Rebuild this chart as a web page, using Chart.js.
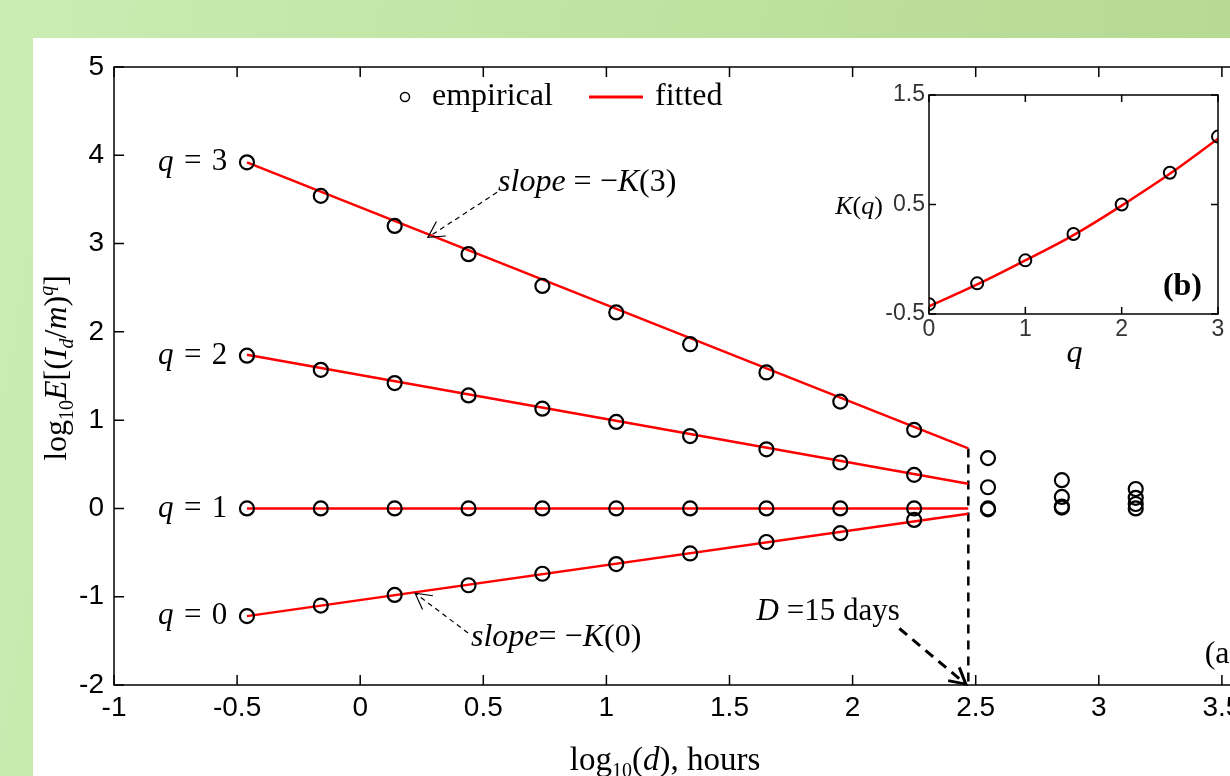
<!DOCTYPE html>
<html>
<head>
<meta charset="utf-8">
<script src="https://cdn.jsdelivr.net/npm/chart.js@4.4.1/dist/chart.umd.min.js"></script>
<style>
html, body { margin: 0; padding: 0; width: 1230px; height: 776px; overflow: hidden; }
body { position: relative; background: linear-gradient(100deg, #c9edb3 0%, #bfe3a2 45%, #b4d88e 100%); }
#panel { position: absolute; left: 33px; top: 38px; width: 1197px; height: 738px; background: #fff; }
#main { position: absolute; left: 0; top: 0; }
#inset { position: absolute; left: 820px; top: 75px; }
</style>
</head>
<body>
<div id="panel"></div>
<canvas id="main" width="1360" height="776"></canvas>
<canvas id="inset" width="410" height="310"></canvas>
<script>
// log10(d) of the aggregation scales, hours
const logD = [-0.46, -0.16, 0.14, 0.44, 0.74, 1.04, 1.34, 1.65, 1.95, 2.25, 2.55, 2.85, 3.15];

// empirical log10 E[(Id/m)^q]
const momQ3 = [3.92, 3.54, 3.20, 2.88, 2.52, 2.22, 1.86, 1.54, 1.21, 0.89, 0.57, 0.32, 0.22];
const momQ2 = [1.73, 1.57, 1.42, 1.28, 1.13, 0.98, 0.82, 0.67, 0.52, 0.38, 0.24, 0.13, 0.12];
const momQ1 = [0, 0, 0, 0, 0, 0, 0, 0, 0, 0, 0, 0.01, 0];
const momQ0 = [-1.22, -1.10, -0.98, -0.87, -0.74, -0.63, -0.51, -0.38, -0.28, -0.13, -0.01, 0.02, 0.05];

// fitted lines, from first scale to the cutoff D = 15 days
const fitX = [-0.46, 2.47];
const fitQ3 = [3.92, 0.68];
const fitQ2 = [1.74, 0.28];
const fitQ1 = [0, 0];
const fitQ0 = [-1.22, -0.06];
const cutoff = 2.47;

const qNames = ['3', '2', '1', '0'];

// inset (b): K(q)
const qValues = [0, 0.5, 1, 1.5, 2, 2.5, 3];
const kEmp = [-0.41, -0.22, -0.01, 0.23, 0.50, 0.79, 1.12];
const kFit = [-0.43, -0.23, -0.01, 0.22, 0.49, 0.78, 1.10];

const SERIF = '"Liberation Serif", "Times New Roman", serif';
const SANS = '"Liberation Sans", Arial, sans-serif';
function fnt(px, st) { return (st ? st + ' ' : '') + px + 'px ' + SERIF; }
const plain = v => String(Math.round(v * 10) / 10);

Chart.defaults.color = '#000';

// draws a run of text pieces [text, font, dy]
function rich(ctx, segs, x, y, align) {
    let w = 0;
    segs.forEach(s => { ctx.font = s[1]; w += ctx.measureText(s[0]).width; });
    let cx = align === 'right' ? x - w : (align === 'center' ? x - w / 2 : x);
    ctx.textAlign = 'left';
    segs.forEach(s => {
        ctx.font = s[1];
        ctx.fillText(s[0], cx, y + (s[2] || 0));
        cx += ctx.measureText(s[0]).width;
    });
}

function arrow(ctx, x1, y1, x2, y2, width, dash, head) {
    ctx.save();
    ctx.strokeStyle = '#000';
    ctx.lineWidth = width;
    ctx.setLineDash(dash);
    ctx.beginPath();
    ctx.moveTo(x1, y1);
    ctx.lineTo(x2, y2);
    ctx.stroke();
    ctx.setLineDash([]);
    const a = Math.atan2(y1 - y2, x1 - x2);
    ctx.beginPath();
    ctx.moveTo(x2 + head * Math.cos(a + 0.5), y2 + head * Math.sin(a + 0.5));
    ctx.lineTo(x2, y2);
    ctx.lineTo(x2 + head * Math.cos(a - 0.5), y2 + head * Math.sin(a - 0.5));
    ctx.stroke();
    ctx.restore();
}

function frameAndTicks(chart, len) {
    const ctx = chart.ctx;
    const a = chart.chartArea;
    ctx.save();
    ctx.strokeStyle = '#000';
    ctx.lineWidth = 1.5;
    ctx.strokeRect(a.left, a.top, a.right - a.left, a.bottom - a.top);
    ctx.beginPath();
    chart.scales.x.ticks.forEach(t => {
        const px = chart.scales.x.getPixelForValue(t.value);
        ctx.moveTo(px, a.bottom); ctx.lineTo(px, a.bottom - len);
        ctx.moveTo(px, a.top); ctx.lineTo(px, a.top + len);
    });
    chart.scales.y.ticks.forEach(t => {
        const py = chart.scales.y.getPixelForValue(t.value);
        ctx.moveTo(a.left, py); ctx.lineTo(a.left + len, py);
        ctx.moveTo(a.right, py); ctx.lineTo(a.right - len, py);
    });
    ctx.stroke();
    ctx.restore();
}

const mainDecor = {
    id: 'mainDecor',
    afterDatasetsDraw(chart) {
        const ctx = chart.ctx;
        const xs = chart.scales.x, ys = chart.scales.y;
        const a = chart.chartArea;
        const X = v => xs.getPixelForValue(v), Y = v => ys.getPixelForValue(v);
        frameAndTicks(chart, 10);

        ctx.save();
        ctx.fillStyle = '#000';
        ctx.textBaseline = 'middle';

        // q labels
        [momQ3, momQ2, momQ1, momQ0].forEach((s, i) => {
            rich(ctx, [['q', fnt(31, 'italic')], ['\u2004=\u2004' + qNames[i], fnt(31)]], X(-0.54), Y(s[0]), 'right');
        });

        // slope annotations
        rich(ctx, [['slope', fnt(32, 'italic')], [' = \u2212', fnt(32)], ['K', fnt(32, 'italic')], ['(3)', fnt(32)]], X(0.56), Y(3.69), 'left');
        arrow(ctx, X(0.556), Y(3.58), X(0.275), Y(3.07), 1.2, [5, 4], 18);
        rich(ctx, [['slope', fnt(32, 'italic')], ['= \u2212', fnt(32)], ['K', fnt(32, 'italic')], ['(0)', fnt(32)]], X(0.45), Y(-1.46), 'left');
        arrow(ctx, X(0.438), Y(-1.41), X(0.223), Y(-0.96), 1.2, [5, 4], 18);

        // cutoff scale
        rich(ctx, [['D', fnt(31, 'italic')], [' =15 days', fnt(31)]], X(1.61), Y(-1.17), 'left');
        arrow(ctx, X(2.19), Y(-1.36), X(2.46), Y(-1.99), 3, [10, 7], 18);

        rich(ctx, [['(a)', fnt(32)]], X(3.43), Y(-1.65), 'left');

        // legend
        const lx = a.left, ly = a.top + 30;
        ctx.lineWidth = 1.5;
        ctx.strokeStyle = '#000';
        ctx.beginPath();
        ctx.arc(lx + 291, ly, 4.5, 0, Math.PI * 2);
        ctx.stroke();
        rich(ctx, [['empirical', fnt(32)]], lx + 318, ly, 'left');
        ctx.strokeStyle = '#f00';
        ctx.lineWidth = 3;
        ctx.beginPath();
        ctx.moveTo(lx + 475, ly); ctx.lineTo(lx + 529, ly);
        ctx.stroke();
        rich(ctx, [['fitted', fnt(32)]], lx + 541, ly, 'left');

        // axis titles
        ctx.textBaseline = 'alphabetic';
        rich(ctx, [['log', fnt(33)], ['10', fnt(20), 7], ['(', fnt(33)], ['d', fnt(33, 'italic')], ['), hours', fnt(33)]], 665, 770, 'center');
        ctx.translate(66, 368);
        ctx.rotate(-Math.PI / 2);
        rich(ctx, [['log', fnt(32)], ['10', fnt(20), 7], ['E', fnt(32, 'italic')], ['[(', fnt(32)], ['I', fnt(32, 'italic')],
            ['d', fnt(20, 'italic'), 7], ['/', fnt(32)], ['m', fnt(32, 'italic')], [')', fnt(32)], ['q', fnt(20, 'italic'), -13], [']', fnt(32)]], 0, 0, 'center');
        ctx.restore();
    }
};

const pt = arr => logD.map((x, i) => ({ x: x, y: arr[i] }));
const fl = arr => fitX.map((x, i) => ({ x: x, y: arr[i] }));

const empStyle = { showLine: false, pointRadius: 7, pointHoverRadius: 7, pointBorderWidth: 2.2, borderColor: '#000', backgroundColor: 'rgba(0,0,0,0)' };
const fitStyle = { showLine: true, borderColor: '#ff0000', borderWidth: 2.5, pointRadius: 0 };

new Chart(document.getElementById('main').getContext('2d'), {
    type: 'scatter',
    data: {
        datasets: [
            Object.assign({ label: 'empirical q=3', data: pt(momQ3) }, empStyle),
            Object.assign({ label: 'empirical q=2', data: pt(momQ2) }, empStyle),
            Object.assign({ label: 'empirical q=1', data: pt(momQ1) }, empStyle),
            Object.assign({ label: 'empirical q=0', data: pt(momQ0) }, empStyle),
            Object.assign({ label: 'fitted q=3', data: fl(fitQ3) }, fitStyle),
            Object.assign({ label: 'fitted q=2', data: fl(fitQ2) }, fitStyle),
            Object.assign({ label: 'fitted q=1', data: fl(fitQ1) }, fitStyle),
            Object.assign({ label: 'fitted q=0', data: fl(fitQ0) }, fitStyle),
            { label: 'D', data: [{ x: cutoff, y: fitQ3[1] }, { x: cutoff, y: -2 }], showLine: true,
              borderColor: '#000', borderWidth: 2.5, borderDash: [9, 7], pointRadius: 0 }
        ]
    },
    options: {
        responsive: false,
        animation: false,
        events: [],
        layout: { padding: { left: 0, top: 67, right: 15, bottom: 0 } },
        plugins: { legend: { display: false }, tooltip: { enabled: false } },
        scales: {
            x: {
                type: 'linear', min: -1, max: 4,
                grid: { display: false, drawTicks: false }, border: { display: false },
                ticks: { stepSize: 0.5, autoSkip: false, maxRotation: 0, padding: 6, callback: plain,
                         font: { family: SANS, size: 28 }, color: '#000' },
                afterFit: s => { s.height = 91; }
            },
            y: {
                type: 'linear', min: -2, max: 5,
                grid: { display: false, drawTicks: false }, border: { display: false },
                ticks: { stepSize: 1, padding: 10, callback: plain, font: { family: SANS, size: 28 }, color: '#000' },
                afterFit: s => { s.width = 114; }
            }
        }
    },
    plugins: [mainDecor]
});

const insetDecor = {
    id: 'insetDecor',
    beforeDraw(chart) {
        const a = chart.chartArea;
        chart.ctx.save();
        chart.ctx.fillStyle = '#fff';
        chart.ctx.fillRect(a.left, a.top, a.right - a.left, a.bottom - a.top);
        chart.ctx.restore();
    },
    afterDatasetsDraw(chart) {
        const ctx = chart.ctx;
        const a = chart.chartArea;
        frameAndTicks(chart, 7);
        ctx.save();
        ctx.fillStyle = '#000';
        ctx.textBaseline = 'alphabetic';
        rich(ctx, [['(b)', fnt(32, 'bold')]], a.right - 16, a.bottom - 19, 'right');
        rich(ctx, [['q', fnt(32, 'italic')]], (a.left + a.right) / 2 + 1, a.bottom + 48, 'center');
        rich(ctx, [['K', fnt(26, 'italic')], ['(', fnt(26)], ['q', fnt(26, 'italic')], [')', fnt(26)]], a.left - 70, chart.scales.y.getPixelForValue(0.5) + 9, 'center');
        ctx.restore();
    }
};

new Chart(document.getElementById('inset').getContext('2d'), {
    type: 'scatter',
    data: {
        datasets: [
            { label: 'empirical', data: qValues.map((q, i) => ({ x: q, y: kEmp[i] })), showLine: false,
              pointRadius: 6, pointBorderWidth: 2, borderColor: '#000', backgroundColor: 'rgba(0,0,0,0)' },
            { label: 'fitted', data: qValues.map((q, i) => ({ x: q, y: kFit[i] })), showLine: true,
              borderColor: '#ff0000', borderWidth: 2.5, pointRadius: 0, tension: 0.4 }
        ]
    },
    options: {
        responsive: false,
        animation: false,
        events: [],
        layout: { padding: { left: 0, top: 20, right: 12, bottom: 0 } },
        plugins: { legend: { display: false }, tooltip: { enabled: false } },
        scales: {
            x: {
                type: 'linear', min: 0, max: 3,
                grid: { display: false, drawTicks: false }, border: { display: false },
                ticks: { stepSize: 1, autoSkip: false, maxRotation: 0, padding: 2, callback: plain,
                         font: { family: SANS, size: 23 }, color: '#333' },
                afterFit: s => { s.height = 71; }
            },
            y: {
                type: 'linear', min: -0.5, max: 1.5,
                grid: { display: false, drawTicks: false }, border: { display: false },
                ticks: { stepSize: 1, padding: 4, callback: plain, font: { family: SANS, size: 23 }, color: '#333' },
                afterFit: s => { s.width = 109; }
            }
        }
    },
    plugins: [insetDecor]
});
</script>
</body>
</html>
